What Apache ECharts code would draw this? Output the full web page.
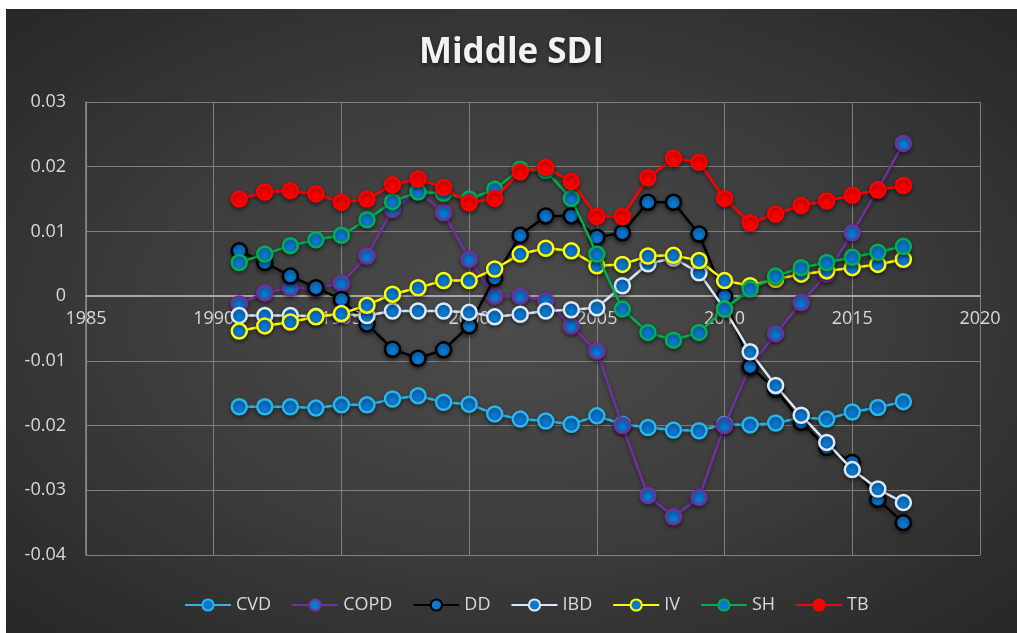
<!DOCTYPE html>
<html>
<head>
<meta charset="utf-8">
<title>Middle SDI</title>
<script src="https://cdn.jsdelivr.net/npm/echarts@6/dist/echarts.min.js"></script>
<style>
  html, body {
    margin: 0;
    padding: 0;
    background: #ffffff;
  }
  .frame {
    position: absolute;
    left: 6px;
    top: 9px;
    width: 1011px;
    height: 624px;
    background: radial-gradient(ellipse at 50% 50%, #4c4c4c 0%, #3d3d3d 50%, #272727 100%);
  }
  #chart {
    width: 1011px;
    height: 624px;
  }
</style>
</head>
<body>
<div class="frame">
  <div id="chart"></div>
</div>
<script>
// 年份 1991 - 2017
const years = [1991, 1992, 1993, 1994, 1995, 1996, 1997, 1998, 1999, 2000,
  2001, 2002, 2003, 2004, 2005, 2006, 2007, 2008, 2009, 2010,
  2011, 2012, 2013, 2014, 2015, 2016, 2017]

const cvd = [-0.0171, -0.0171, -0.0171, -0.0173, -0.0168, -0.0168, -0.0159, -0.0154, -0.0164, -0.0167,
  -0.0182, -0.0190, -0.0193, -0.0198, -0.0185, -0.0198, -0.0203, -0.0207, -0.0208, -0.0198,
  -0.0199, -0.0196, -0.0188, -0.0190, -0.0179, -0.0172, -0.0163]
const copd = [-0.0012, 0.0005, 0.0013, 0.0012, 0.0020, 0.0062, 0.0134, 0.0163, 0.0129, 0.0057,
  0.0000, 0.0000, -0.0007, -0.0046, -0.0085, -0.0200, -0.0308, -0.0341, -0.0311, -0.0200,
  -0.0108, -0.0058, -0.0010, 0.0034, 0.0098, 0.0165, 0.0236]
const dd = [0.0070, 0.0052, 0.0031, 0.0013, -0.0005, -0.0043, -0.0082, -0.0096, -0.0083, -0.0046,
  0.0028, 0.0094, 0.0124, 0.0124, 0.0091, 0.0098, 0.0145, 0.0145, 0.0096, 0.0000,
  -0.0109, -0.0144, -0.0195, -0.0234, -0.0257, -0.0314, -0.0350]
const ibd = [-0.0030, -0.0030, -0.0030, -0.0031, -0.0028, -0.0030, -0.0023, -0.0023, -0.0023, -0.0025,
  -0.0032, -0.0028, -0.0023, -0.0021, -0.0018, 0.0016, 0.0050, 0.0059, 0.0036, -0.0020,
  -0.0086, -0.0138, -0.0184, -0.0226, -0.0268, -0.0298, -0.0319]
const iv = [-0.0054, -0.0046, -0.0040, -0.0032, -0.0027, -0.0014, 0.0003, 0.0013, 0.0024, 0.0024,
  0.0042, 0.0065, 0.0074, 0.0070, 0.0047, 0.0049, 0.0062, 0.0063, 0.0055, 0.0024,
  0.0016, 0.0026, 0.0034, 0.0039, 0.0044, 0.0049, 0.0057]
const sh = [0.0052, 0.0065, 0.0078, 0.0087, 0.0094, 0.0118, 0.0146, 0.0161, 0.0159, 0.0150,
  0.0165, 0.0196, 0.0194, 0.0151, 0.0065, -0.0020, -0.0056, -0.0068, -0.0056, -0.0020,
  0.0011, 0.0031, 0.0044, 0.0052, 0.0060, 0.0068, 0.0077]
const tb = [0.0150, 0.0161, 0.0163, 0.0158, 0.0145, 0.0150, 0.0172, 0.0181, 0.0168, 0.0144,
  0.0151, 0.0192, 0.0199, 0.0177, 0.0123, 0.0123, 0.0183, 0.0213, 0.0207, 0.0151,
  0.0113, 0.0127, 0.0140, 0.0147, 0.0156, 0.0164, 0.0171]

const xTicks = [1985, 1990, 1995, 2000, 2005, 2010, 2015, 2020]
const yTicks = [-0.04, -0.03, -0.02, -0.01, 0, 0.01, 0.02, 0.03]

const names = ['CVD', 'COPD', 'DD', 'IBD', 'IV', 'SH', 'TB']
const values = [cvd, copd, dd, ibd, iv, sh, tb]
const colors = ['#2cb5e8', '#7030a0', '#000000', '#dce9f7', '#ffff00', '#00b050', '#ff0000']
const fills = ['#0b78d0', '#0b78d0', '#0b78d0', '#0b78d0', '#0b78d0', '#0b78d0', '#ff0000']

const gridTop = 93
const gridBottom = 78
const chartH = 624
const plotH = chartH - gridTop - gridBottom
// 把横轴（含刻度标签）挪到 y=0 的位置
const yMin = yTicks[0]
const yMax = yTicks[yTicks.length - 1]
const zeroOffset = -plotH * (0 - yMin) / (yMax - yMin)

const chart = echarts.init(document.getElementById('chart'))

const series = names.map((name, i) => ({
  name: name,
  type: 'line',
  data: years.map((y, j) => [y, values[i][j]]),
  symbol: 'circle',
  symbolSize: 15,
  lineStyle: {
    color: colors[i],
    width: 2.5,
    shadowColor: 'rgba(0,0,0,0.45)',
    shadowBlur: 4,
    shadowOffsetY: 2
  },
  itemStyle: {
    color: fills[i],
    borderColor: colors[i],
    borderWidth: 2.5,
    shadowColor: 'rgba(0,0,0,0.45)',
    shadowBlur: 4,
    shadowOffsetY: 2
  },
  emphasis: { disabled: true },
  z: 3 + i
}))

const option = {
  animation: false,
  title: {
    text: 'Middle SDI',
    left: 'center',
    top: 22,
    textStyle: {
      color: '#f2f2f2',
      fontFamily: 'Open Sans',
      fontWeight: 'bold',
      fontSize: 35,
      textShadowColor: 'rgba(0,0,0,0.6)',
      textShadowBlur: 4,
      textShadowOffsetY: 2
    }
  },
  legend: {
    bottom: 14,
    left: 173,
    itemWidth: 46,
    itemHeight: 14,
    itemGap: 20,
    textStyle: {
      color: '#d9d9d9',
      fontFamily: 'Open Sans',
      fontSize: 18
    },
    data: names
  },
  grid: {
    left: 80,
    right: 37,
    top: gridTop,
    bottom: gridBottom
  },
  xAxis: {
    type: 'value',
    min: xTicks[0],
    max: xTicks[xTicks.length - 1],
    interval: 5,
    offset: zeroOffset,
    axisLine: {
      onZero: false,
      lineStyle: { color: '#a6a6a6', width: 2 }
    },
    axisTick: { show: false },
    axisLabel: {
      color: '#d9d9d9',
      fontFamily: 'Open Sans',
      fontSize: 18,
      margin: 14,
      formatter: v => String(v)
    },
    splitLine: {
      show: true,
      lineStyle: { color: '#7f7f7f', width: 1 }
    }
  },
  yAxis: {
    type: 'value',
    min: yMin,
    max: yMax,
    interval: 0.01,
    axisLine: {
      show: true,
      onZero: false,
      lineStyle: { color: '#8c8c8c', width: 1.5 }
    },
    axisTick: { show: false },
    axisLabel: {
      color: '#d9d9d9',
      fontFamily: 'Open Sans',
      fontSize: 18,
      margin: 20,
      formatter: v => String(Math.round(v * 100) / 100)
    },
    splitLine: {
      show: true,
      lineStyle: { color: '#7f7f7f', width: 1 }
    }
  },
  series: series
}

chart.setOption(option)
</script>
</body>
</html>
